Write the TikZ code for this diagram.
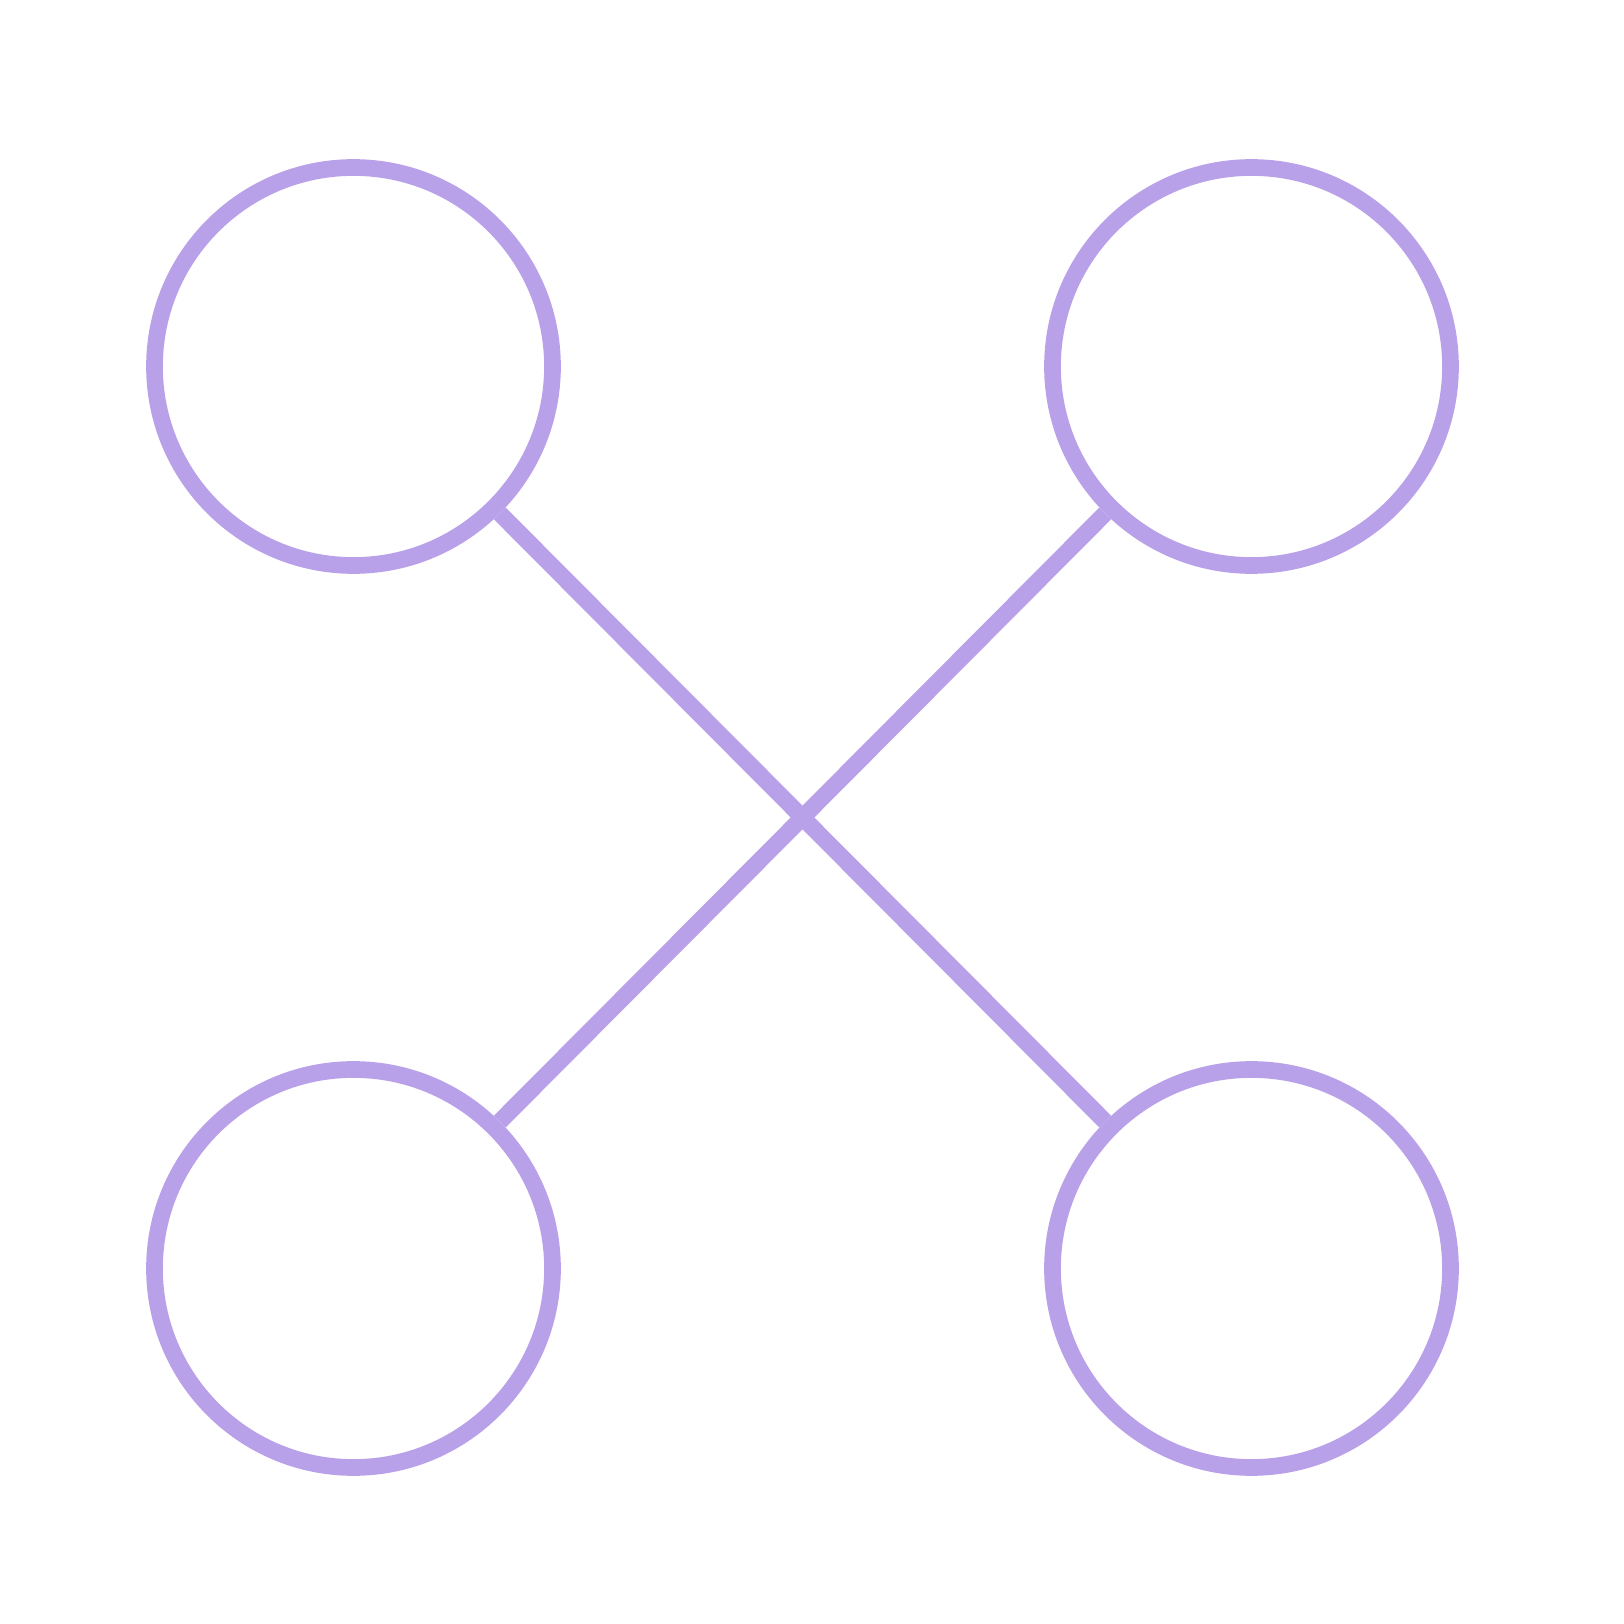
\documentclass[tikz,border=0pt]{standalone}
\usetikzlibrary{positioning}
\definecolor{lavender}{RGB}{185,161,233}

\begin{document}
\begin{tikzpicture}[on grid,
    ring/.style = {circle, draw = lavender, line width = 0.167cm, inner sep = 0pt, minimum size = 3.98cm},
    spoke/.style = {draw = lavender, line width = 0.167cm}]
    \useasboundingbox (0,0) rectangle (16.24,16.24);
    \node[ring] (tl) at (3.535,12.575) {};
    \node[ring, right = 8.98cm of tl] (tr) {};
    \node[ring, below = 9.02cm of tl] (bl) {};
    \node[ring, below = 9.02cm of tr] (br) {};
    \path[spoke] (tl) -- (br);
    \path[spoke] (tr) -- (bl);
\end{tikzpicture}
\end{document}
